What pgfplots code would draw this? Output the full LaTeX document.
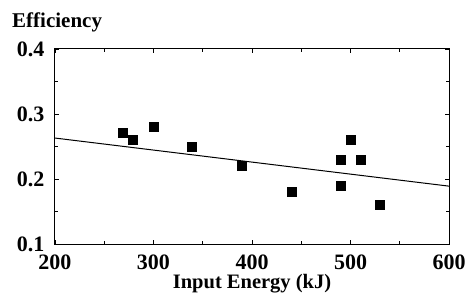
\documentclass[border=0pt]{standalone}
\usepackage{pgfplots}
\pgfplotsset{compat=1.18}
\usepackage{fontspec}
\setmainfont{Liberation Serif}
\begin{document}
\begin{tikzpicture}
\begin{axis}[
  name=ax,
  scale only axis,
  width=394pt, height=195pt,
  xmin=200, xmax=600, ymin=0.1, ymax=0.4,
  xtick={200,300,400,500,600},
  ytick={0.1,0.2,0.3,0.4},
  minor xtick={250,350,450,550},
  minor ytick={0.15,0.25,0.35},
  yticklabels={0.1,0.2,0.3,0.4},
  tick align=inside,
  major tick length=4pt, minor tick length=3pt,
  axis line style={line width=1pt},
  every tick/.style={black, line width=0.8pt},
  tick label style={font=\fontsize{22}{24}\selectfont\bfseries},
  /pgf/number format/assume math mode=true,
  xticklabel style={yshift=-7pt},
  yticklabel style={xshift=-7pt},
  xlabel={Input Energy (kJ)},
  xlabel style={font=\fontsize{20.5}{22}\selectfont\bfseries, yshift=2pt},
  clip=false,
]
\addplot[only marks, mark=square*, mark size=4.5pt, black, mark options={rounded corners=1.5pt}] coordinates {
  (269,0.271) (279,0.26) (300,0.28) (339,0.249) (390,0.22) (440,0.18)
  (490,0.23) (490,0.19) (500,0.26) (510,0.23) (530,0.16)
};
\addplot[black, line width=1pt] coordinates {(200,0.263) (600,0.189)};
\node[anchor=base west, font=\fontsize{21}{23}\selectfont\bfseries, inner sep=0pt] at ([xshift=-43pt, yshift=21pt]rel axis cs:0,1) {Efficiency};
\end{axis}
\pgfresetboundingbox
\path ([xshift=-55pt,yshift=-58pt]ax.south west) rectangle ([xshift=16pt,yshift=49pt]ax.north east);
\end{tikzpicture}
\end{document}
